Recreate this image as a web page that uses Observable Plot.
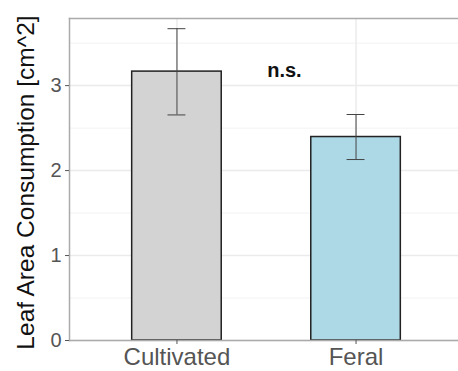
<!DOCTYPE html>
<html>
<head>
<meta charset="utf-8">
<script src="https://cdn.jsdelivr.net/npm/d3@7"></script>
<script src="https://cdn.jsdelivr.net/npm/@observablehq/plot@0.6"></script>
<style>
  html, body { margin: 0; padding: 0; background: #fff; }
  svg { display: block; }
</style>
</head>
<body>
<div id="chart"></div>
<script>
// Mean leaf area consumed per plant type, with error bars
const groups = ["Cultivated", "Feral"];
const means = [3.165, 2.395];
const lower = [2.655, 2.13];
const upper = [3.67, 2.66];
const fills = ["#d3d3d3", "#add8e6"];

// Significance label between the two bars
const noteText = ["n.s."];
const noteX = [1.6];
const noteY = [3.18];

const majorY = [0, 1, 2, 3];
const minorY = [0.5, 1.5, 2.5, 3.5];

const rows = groups.map((g, i) => ({
  group: g, pos: i + 1, mean: means[i], lo: lower[i], hi: upper[i], fill: fills[i]
}));
const notes = noteText.map((t, i) => ({text: t, x: noteX[i], y: noteY[i]}));

const barHalf = 0.25;   // bar width 0.5
const capHalf = 0.05;   // error bar cap width 0.1
const font = "'Liberation Sans', Arial, Helvetica, sans-serif";

const chart = Plot.plot({
  width: 458,
  height: 371,
  marginLeft: 69,
  marginRight: -5,
  marginTop: 18,
  marginBottom: 31,
  style: {fontFamily: font, background: "#fff"},
  x: {domain: [0.4, 2.6], axis: null},
  y: {domain: [0, 3.79], axis: null},
  marks: [
    // minor and major grid
    Plot.ruleY(minorY, {stroke: "#f2f2f2", strokeWidth: 1}),
    Plot.ruleY(majorY, {stroke: "#ebebeb", strokeWidth: 1.5}),
    Plot.ruleX(rows, {x: "pos", stroke: "#ebebeb", strokeWidth: 1.5}),
    // bars
    Plot.rectY(rows, {
      x1: d => d.pos - barHalf, x2: d => d.pos + barHalf,
      y1: 0, y2: "mean",
      fill: "fill", stroke: "#222", strokeWidth: 1.5
    }),
    // error bars
    Plot.ruleX(rows, {x: "pos", y1: "lo", y2: "hi", stroke: "#444", strokeWidth: 1}),
    Plot.ruleY(rows, {x1: d => d.pos - capHalf, x2: d => d.pos + capHalf, y: "lo", stroke: "#444", strokeWidth: 1}),
    Plot.ruleY(rows, {x1: d => d.pos - capHalf, x2: d => d.pos + capHalf, y: "hi", stroke: "#444", strokeWidth: 1}),
    // annotation
    Plot.text(notes, {x: "x", y: "y", text: "text", fontWeight: "bold", fontSize: 20, fill: "#111"}),
    // panel border (left, top) and x axis line
    Plot.frame({anchor: "left", stroke: "#aaa", strokeWidth: 1.5}),
    Plot.frame({anchor: "top", stroke: "#aaa", strokeWidth: 1.5}),
    Plot.frame({anchor: "bottom", stroke: "#aaa", strokeWidth: 1.5}),
    // axes
    Plot.axisY(majorY, {
      tickSize: 4, tickPadding: 4, fontSize: 20, color: "#555", stroke: "#555",
      tickFormat: d => d3.format("d")(d),
      label: "Leaf Area Consumption [cm^2]", labelAnchor: "center", labelArrow: "none",
      labelOffset: 53
    }),
    Plot.axisX(rows.map(d => d.pos), {
      tickSize: 4, tickPadding: 3, fontSize: 24, color: "#555", stroke: "#555",
      tickFormat: d => groups[d - 1], label: null
    })
  ]
});

// axis title in near-black at full size, nudged to the centre of its text block
chart.querySelectorAll("[aria-label='y-axis label'] text").forEach(t => {
  t.setAttribute("font-size", 24.5);
  t.setAttribute("fill", "#111");
  t.setAttribute("dx", "-3");
});

document.getElementById("chart").append(chart);
</script>
</body>
</html>
